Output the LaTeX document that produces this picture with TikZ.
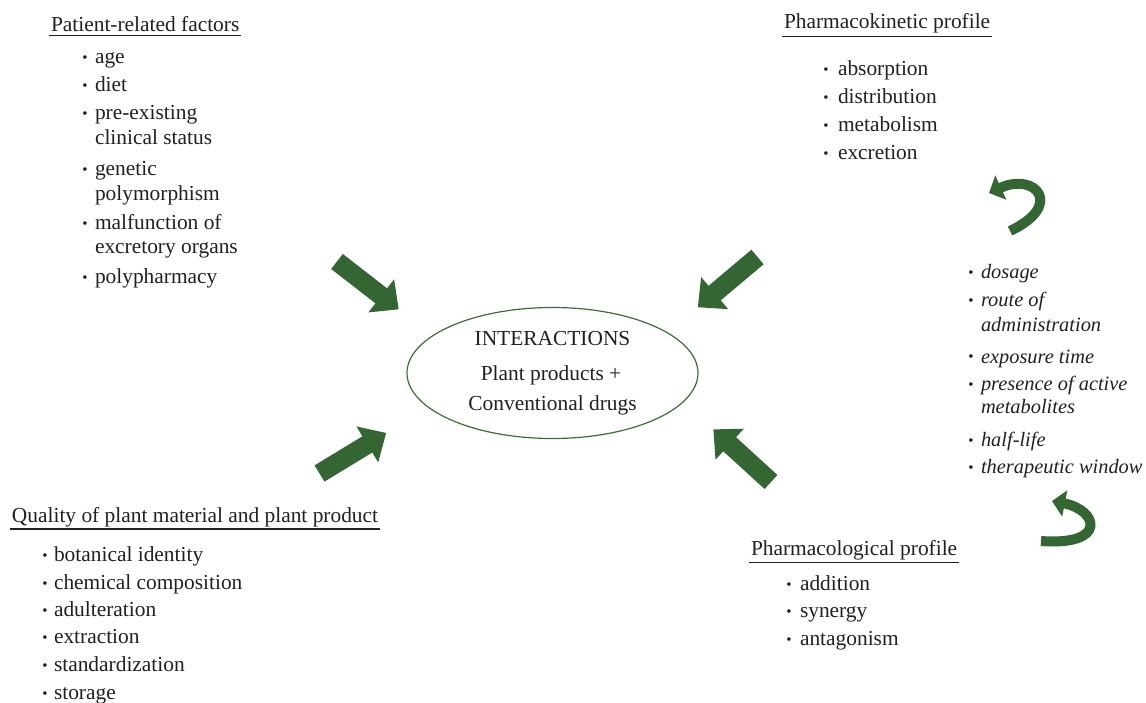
\documentclass[tikz,border=0pt]{standalone}
\usepackage{fontspec}
\setmainfont{Liberation Serif}
\usetikzlibrary{shapes.geometric,arrows.meta}
\definecolor{agreen}{RGB}{52,102,51}
\definecolor{egreen}{RGB}{58,110,54}
\definecolor{tgray}{RGB}{35,31,32}
\begin{document}
\begin{tikzpicture}[x=1pt,y=-1pt,
  every node/.style={inner sep=0pt, outer sep=0pt, text=tgray, font=\fontsize{21.4}{25}\selectfont},
  txt/.style={anchor=base west},
  itxt/.style={anchor=base west, font=\fontsize{20.4}{25}\selectfont\itshape},
  bul/.style={anchor=base, font=\fontsize{15}{15}\selectfont},
  title/.style={anchor=base west},
  uline/.style={draw=tgray, line width=1.3pt},
  blockarrow/.pic={\fill[agreen] (0,-9.5) -- (56,-9.5) -- (56,-21) -- (78,0) -- (56,21) -- (56,9.5) -- (0,9.5) -- cycle;},
  curvy/.style={draw=agreen, line width=10pt, -{Triangle[width=26pt,length=13pt]}},
]
\useasboundingbox (0,0) rectangle (1146,703);

% central ellipse
\node[draw=egreen, line width=1.2pt, ellipse, minimum width=291, minimum height=131] (core) at (552.5,373) {};
\node[anchor=base] (c1) at (552.5,345) {INTERACTIONS};
\node[anchor=base] (c2) at (551,380) {Plant products +};
\node[anchor=base] (c3) at (552.5,410) {Conventional drugs};

% Patient-related factors
\node[title] (tp) at (51,31.5) {Patient-related factors};
\draw[uline] ([xshift=-2pt,yshift=-3.5pt]tp.south west) -- ([xshift=2pt,yshift=-3.5pt]tp.south east);
\node[bul] (pb1) at (85,63) {\textbullet}; \node[txt] (p1) at (95,64) {age};
\node[bul] (pb2) at (85,91) {\textbullet}; \node[txt] (p2) at (95,92) {diet};
\node[bul] (pb3) at (85,119) {\textbullet}; \node[txt] (p3) at (95,120) {pre-existing};
\node[txt] (p3b) at (95,145) {clinical status};
\node[bul] (pb4) at (85,175) {\textbullet}; \node[txt] (p4) at (95,176) {genetic};
\node[txt] (p4b) at (95,201) {polymorphism};
\node[bul] (pb5) at (85,229) {\textbullet}; \node[txt] (p5) at (95,230) {malfunction of};
\node[txt] (p5b) at (95,254) {excretory organs};
\node[bul] (pb6) at (85,283) {\textbullet}; \node[txt] (p6) at (95,284) {polypharmacy};

% Pharmacokinetic profile
\node[title] (tk) at (784,28.5) {Pharmacokinetic profile};
\draw[uline] ([xshift=-2pt,yshift=-3.5pt]tk.south west) -- ([xshift=2pt,yshift=-3.5pt]tk.south east);
\node[bul] (kb1) at (826,75) {\textbullet}; \node[txt] (k1) at (838,76) {absorption};
\node[bul] (kb2) at (826,103) {\textbullet}; \node[txt] (k2) at (838,104) {distribution};
\node[bul] (kb3) at (826,131) {\textbullet}; \node[txt] (k3) at (838,132) {metabolism};
\node[bul] (kb4) at (826,159) {\textbullet}; \node[txt] (k4) at (838,160) {excretion};

% italic list
\node[bul] (ib1) at (971,277.5) {\textbullet}; \node[itxt] (i1) at (981,278.5) {dosage};
\node[bul] (ib2) at (971,306) {\textbullet}; \node[itxt] (i2) at (981,307) {route of};
\node[itxt] (i2b) at (981,332) {administration};
\node[bul] (ib3) at (971,362) {\textbullet}; \node[itxt] (i3) at (981,363) {exposure time};
\node[bul] (ib4) at (971,389) {\textbullet}; \node[itxt] (i4) at (981,390) {presence of active};
\node[itxt] (i4b) at (981,413.5) {metabolites};
\node[bul] (ib5) at (971,445) {\textbullet}; \node[itxt] (i5) at (981,446) {half-life};
\node[bul] (ib6) at (971,472) {\textbullet}; \node[itxt] (i6) at (981,473) {therapeutic window};

% Quality of plant material
\node[title] (tq) at (12,522.5) {Quality of plant material and plant product};
\draw[uline] ([xshift=-2pt,yshift=-2pt]tq.south west) -- ([xshift=2pt,yshift=-2pt]tq.south east);
\node[bul] (qb1) at (45,560.5) {\textbullet}; \node[txt] (q1) at (54,561.5) {botanical identity};
\node[bul] (qb2) at (45,588) {\textbullet}; \node[txt] (q2) at (54,589) {chemical composition};
\node[bul] (qb3) at (45,615.5) {\textbullet}; \node[txt] (q3) at (54,616.5) {adulteration};
\node[bul] (qb4) at (45,642.5) {\textbullet}; \node[txt] (q4) at (54,643.5) {extraction};
\node[bul] (qb5) at (45,670.5) {\textbullet}; \node[txt] (q5) at (54,671.5) {standardization};
\node[bul] (qb6) at (45,698) {\textbullet}; \node[txt] (q6) at (54,699) {storage};

% Pharmacological profile
\node[title] (tl) at (751,555) {Pharmacological profile};
\draw[uline] ([xshift=-2pt,yshift=-3pt]tl.south west) -- ([xshift=2pt,yshift=-3pt]tl.south east);
\node[bul] (lb1) at (789,589) {\textbullet}; \node[txt] (l1) at (800,590) {addition};
\node[bul] (lb2) at (789,616) {\textbullet}; \node[txt] (l2) at (800,617) {synergy};
\node[bul] (lb3) at (789,644) {\textbullet}; \node[txt] (l3) at (800,645) {antagonism};

% block arrows
\pic[rotate=-37.8] at (337,261.5) {blockarrow};
\pic[rotate=-139.9] at (757.5,257) {blockarrow};
\pic[rotate=31.3] at (319.5,473.5) {blockarrow};
\pic[rotate=137.6] at (771,482) {blockarrow};

% curved arrows
\coordinate (ta) at (1010,231);
\coordinate (tb) at (989,193);
\draw[curvy] (ta) .. controls (1065,205) and (1035,172) .. (tb);
\coordinate (ba) at (1041,541);
\coordinate (bb) at (1052,501);
\draw[curvy] (ba) .. controls (1108,546) and (1098,510) .. (bb);
\end{tikzpicture}
\end{document}
